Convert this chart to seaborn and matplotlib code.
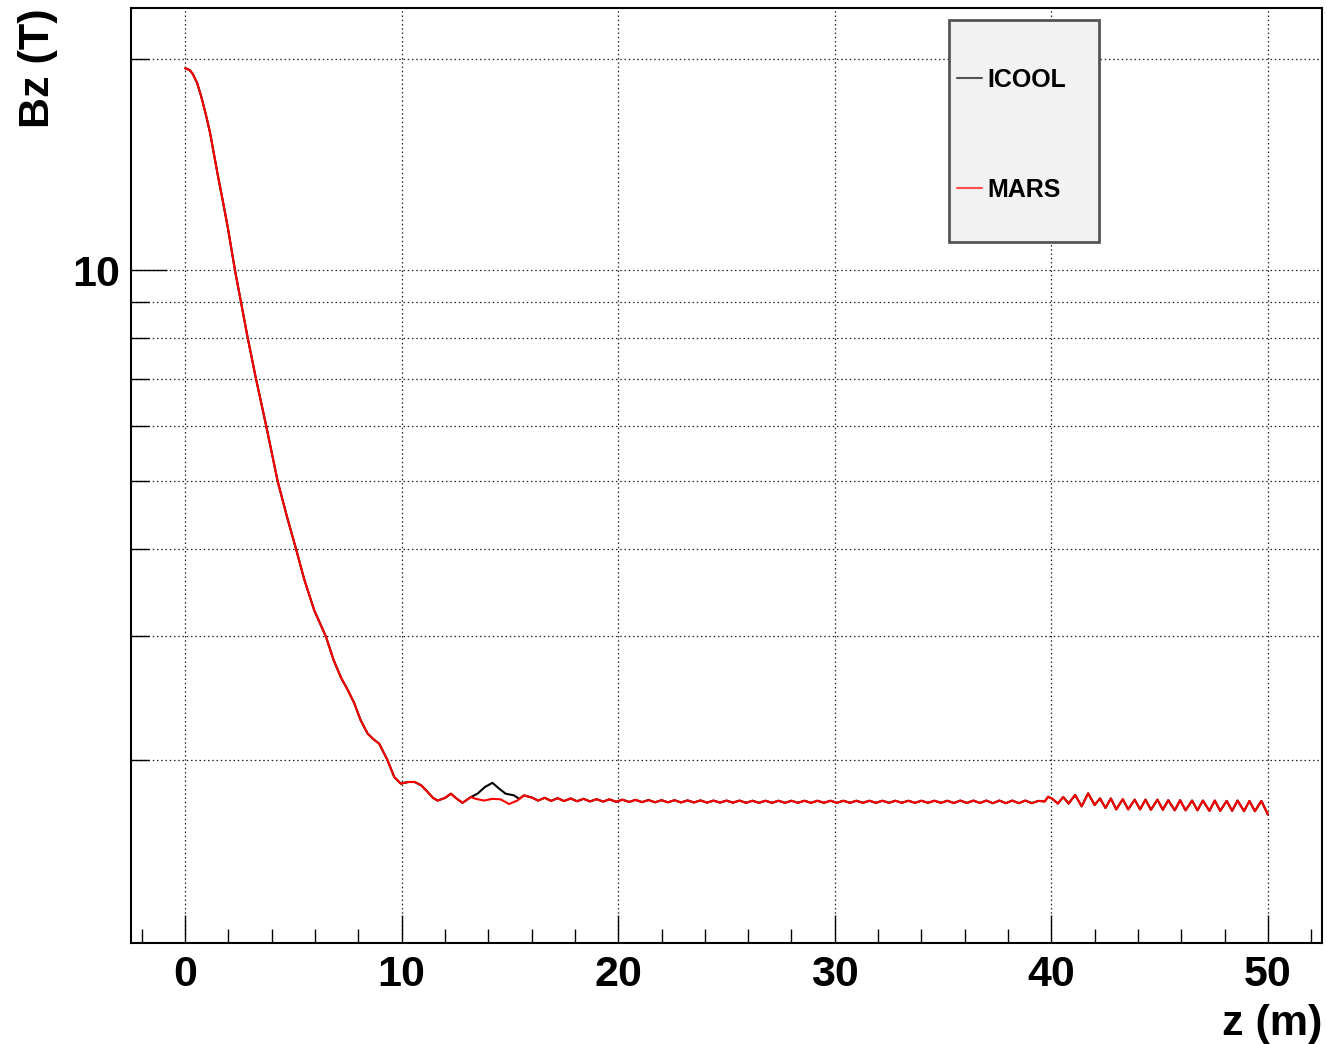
import numpy as np
import pandas as pd
import matplotlib
matplotlib.use("Agg")
import matplotlib.pyplot as plt
from matplotlib.patches import Rectangle
from matplotlib.ticker import NullFormatter
import seaborn as sns

# Bz on axis vs z
# shared decay, both codes agree here
z_head = [0.0, 0.2, 0.35, 0.55, 0.74, 0.95, 1.15, 1.5, 1.75, 1.97,
          2.3, 2.58, 2.89, 3.27, 3.74, 4.27, 4.7, 5.12, 5.5, 5.96,
          6.5, 6.85, 7.2, 7.5, 7.81, 8.1, 8.43, 8.7, 8.96, 9.34,
          9.66, 9.96, 10.3, 10.6, 10.9, 11.2, 11.45, 11.66, 12.0, 12.27,
          12.55, 12.81, 13.19]
bz_head = [19.4, 19.3, 19.05, 18.5, 17.7, 16.7, 15.7, 13.7, 12.5, 11.5,
           10.0, 9.0, 8.0, 7.0, 6.0, 5.0, 4.45, 4.0, 3.62, 3.27,
           3.0, 2.78, 2.62, 2.52, 2.41, 2.28, 2.18, 2.14, 2.11, 2.0,
           1.89, 1.85, 1.86, 1.86, 1.84, 1.80, 1.765, 1.75, 1.765, 1.79,
           1.76, 1.737, 1.77]

# where the two codes differ
z_icool_mid = [13.5, 13.85, 14.19, 14.5, 14.8, 15.19, 15.42, 15.65]
bz_icool_mid = [1.79, 1.83, 1.855, 1.82, 1.79, 1.78, 1.76, 1.78]
z_mars_mid = [13.42, 13.8, 14.19, 14.57, 14.96, 15.34, 15.65]
bz_mars_mid = [1.76, 1.75, 1.76, 1.757, 1.73, 1.75, 1.78]

# shared rippled plateau
z_tail = [16.0, 16.3, 16.6, 16.9, 17.2, 17.5, 17.8, 18.1, 18.4, 18.7,
          19.0, 19.3, 19.6, 19.9, 20.2, 20.5, 20.8, 21.1, 21.4, 21.7,
          22.0, 22.3, 22.6, 22.9, 23.2, 23.5, 23.8, 24.1, 24.4, 24.7,
          25.0, 25.3, 25.6, 25.9, 26.2, 26.5, 26.8, 27.1, 27.4, 27.7,
          28.0, 28.3, 28.6, 28.9, 29.2, 29.5, 29.8, 30.1, 30.4, 30.7,
          31.0, 31.3, 31.6, 31.9, 32.2, 32.5, 32.8, 33.1, 33.4, 33.7,
          34.0, 34.3, 34.6, 34.9, 35.2, 35.5, 35.8, 36.1, 36.4, 36.7,
          37.0, 37.3, 37.6, 37.9, 38.2, 38.5, 38.8, 39.1, 39.4, 39.7,
          39.85, 40.05, 40.3, 40.55, 40.8, 41.1, 41.4, 41.7, 42.0, 42.25,
          42.5, 42.75, 43.0, 43.3, 43.55, 43.85, 44.1, 44.35, 44.6, 44.9,
          45.15, 45.4, 45.7, 45.95, 46.2, 46.5, 46.75, 47.0, 47.3, 47.55,
          47.8, 48.1, 48.35, 48.6, 48.9, 49.15, 49.4, 49.7, 50.0]
bz_tail = [1.768, 1.750, 1.766, 1.748, 1.764, 1.747, 1.762, 1.746, 1.760, 1.745,
           1.758, 1.744, 1.757, 1.743, 1.755, 1.742, 1.754, 1.741, 1.753, 1.740,
           1.752, 1.740, 1.752, 1.739, 1.751, 1.739, 1.751, 1.738, 1.750, 1.738,
           1.750, 1.738, 1.750, 1.737, 1.749, 1.737, 1.749, 1.737, 1.749, 1.737,
           1.749, 1.737, 1.749, 1.737, 1.749, 1.737, 1.749, 1.737, 1.749, 1.737,
           1.749, 1.737, 1.749, 1.737, 1.749, 1.737, 1.749, 1.737, 1.749, 1.737,
           1.749, 1.737, 1.749, 1.737, 1.749, 1.736, 1.750, 1.736, 1.750, 1.736,
           1.750, 1.735, 1.750, 1.735, 1.750, 1.735, 1.750, 1.735, 1.748, 1.745,
           1.772, 1.760, 1.733, 1.770, 1.733, 1.783, 1.717, 1.792, 1.725, 1.762,
           1.708, 1.762, 1.700, 1.758, 1.700, 1.755, 1.700, 1.755, 1.698, 1.755,
           1.698, 1.752, 1.695, 1.752, 1.695, 1.750, 1.695, 1.750, 1.692, 1.750,
           1.692, 1.748, 1.692, 1.750, 1.690, 1.748, 1.690, 1.748, 1.672]

codes = ["ICOOL", "MARS"]
line_colors = {"ICOOL": "black", "MARS": "red"}
legend_colors = {"ICOOL": "#555555", "MARS": "#ff4d4d"}

frames = []
for code, zm, bm in [("ICOOL", z_icool_mid, bz_icool_mid),
                     ("MARS", z_mars_mid, bz_mars_mid)]:
    frames.append(pd.DataFrame({"z": z_head + zm + z_tail,
                                "Bz": bz_head + bm + bz_tail,
                                "code": code}))
df = pd.concat(frames, ignore_index=True)

sns.set_style("white")
plt.rcParams["font.family"] = ["Liberation Sans", "DejaVu Sans"]
plt.rcParams["font.weight"] = "bold"
plt.rcParams["text.color"] = "black"
plt.rcParams["axes.labelcolor"] = "black"

fig = plt.figure(figsize=(13.27, 10.44), dpi=100)
ax = fig.add_axes([131 / 1327, 1 - 943 / 1044, 1191 / 1327, 935 / 1044])

sns.lineplot(data=df, x="z", y="Bz", hue="code", hue_order=codes,
             palette=line_colors, estimator=None, sort=False,
             linewidth=1.5, ax=ax)
for ln in ax.get_lines():
    ln.set_solid_joinstyle("round")

ax.set_yscale("log")
ax.set_xlim(-2.5, 52.5)
ax.set_ylim(1.096, 23.65)

ax.set_xticks([0, 10, 20, 30, 40, 50])
ax.set_xticks([v for v in range(-2, 53, 2) if v % 10], minor=True)
ax.set_yticks([10])
ax.set_yticklabels(["10"])
ax.set_yticks([2, 3, 4, 5, 6, 7, 8, 9, 20], minor=True)
ax.yaxis.set_minor_formatter(NullFormatter())

ax.tick_params(axis="both", which="both", direction="in", colors="black",
               labelsize=31, width=1.0, bottom=True, left=True,
               top=False, right=False)
ax.tick_params(axis="x", which="major", length=20, pad=9)
ax.tick_params(axis="x", which="minor", length=10)
ax.tick_params(axis="y", which="major", length=26, pad=8)
ax.tick_params(axis="y", which="minor", length=13)

grid_kw = dict(color="#222222", linestyle=(0, (1.2, 2.2)), linewidth=0.9)
ax.grid(True, which="major", axis="x", **grid_kw)
ax.grid(True, which="both", axis="y", **grid_kw)
ax.set_axisbelow(True)

for sp in ax.spines.values():
    sp.set_color("black")
    sp.set_linewidth(1.5)

ax.set_xlabel("z (m)", loc="right", fontsize=31, fontweight="bold",
              color="black", labelpad=6)
ax.set_ylabel("Bz (T)", loc="top", fontsize=31, fontweight="bold",
              color="black", labelpad=10)

# ROOT-style legend box
ax.add_patch(Rectangle((0.6868, 0.7497), 0.126, 0.2375, transform=ax.transAxes,
                       facecolor="#f2f2f2", edgecolor="#555555", linewidth=2,
                       zorder=4))
handles, labels = ax.get_legend_handles_labels()
ax.get_legend().remove()
leg = ax.legend(handles, labels, loc="upper left", bbox_to_anchor=(0.6935, 0.9363),
                frameon=False, fontsize=18, handlelength=1.0, handletextpad=0.2,
                borderpad=0, borderaxespad=0, labelspacing=3.45)
for line, lab in zip(leg.get_lines(), labels):
    line.set_color(legend_colors[lab])
    line.set_linewidth(1.5)
for txt in leg.get_texts():
    txt.set_color("black")
leg.set_zorder(5)

fig.savefig("out.png", dpi=100)
